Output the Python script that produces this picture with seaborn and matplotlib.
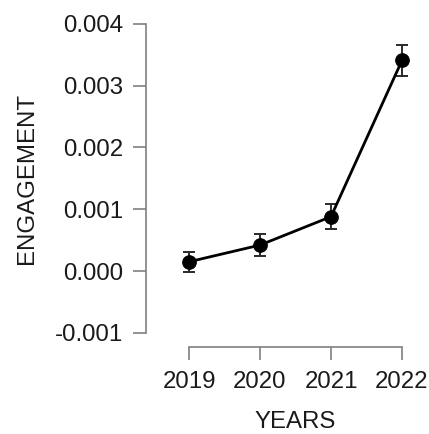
import matplotlib
matplotlib.use("Agg")
import matplotlib.pyplot as plt
import seaborn as sns
import pandas as pd

years = [2019, 2020, 2021, 2022]
engagement = [0.00015, 0.00042, 0.00088, 0.00341]
std_error = [0.00016, 0.00018, 0.00020, 0.00025]

y_ticks = [-0.001, 0.000, 0.001, 0.002, 0.003, 0.004]
y_tick_labels = ["-0.001", "0.000", "0.001", "0.002", "0.003", "0.004"]

sns.set_style("white")
plt.rcParams["font.family"] = ["Liberation Sans", "DejaVu Sans"]

df = pd.DataFrame({"YEARS": years, "ENGAGEMENT": engagement, "SE": std_error})

fig = plt.figure(figsize=(4.29, 4.34), dpi=100)
ax = fig.add_axes([146 / 429, 87 / 434, 283 / 429, 335.4 / 434])

ax.errorbar(df["YEARS"], df["ENGAGEMENT"], yerr=df["SE"], fmt="none",
            ecolor="#2a2a2a", elinewidth=1.4, capsize=4.5, capthick=1.4, zorder=2)
sns.lineplot(data=df, x="YEARS", y="ENGAGEMENT", ax=ax, color="black",
             linewidth=2, marker="o", markersize=9.8, markeredgecolor="black",
             markerfacecolor="black", zorder=3)

ax.set_xlim(2019 - 43 / 71, 2022 + 27 / 71)
ax.set_ylim(-0.00123, 0.0042)

fs = 17.3
ax.set_xticks(years)
ax.set_xticklabels([str(y) for y in years], fontsize=fs)
ax.set_yticks(y_ticks)
ax.set_yticklabels(y_tick_labels, fontsize=fs)

for side in ["top", "right"]:
    ax.spines[side].set_visible(False)
ax.spines["left"].set_bounds(-0.001, 0.004)
ax.spines["bottom"].set_bounds(2019, 2022)
for side in ["left", "bottom"]:
    ax.spines[side].set_color("#808080")
    ax.spines[side].set_linewidth(1.2)

ax.tick_params(axis="both", which="major", length=9.5, width=1.2,
               color="#808080", labelcolor="#1a1a1a", left=True, bottom=True)
ax.tick_params(axis="x", pad=7.5)
ax.tick_params(axis="y", pad=7)

ax.set_xlabel("YEARS", fontsize=fs, color="#1a1a1a")
ax.set_ylabel("ENGAGEMENT", fontsize=fs, color="#1a1a1a")
ax.xaxis.set_label_coords((295 - 146) / 283, -(410.5 - 347) / 335.4)
ax.yaxis.set_label_coords(-(146 - 38) / 283, (347 - 178.5) / 335.4)

fig.savefig("out.png", dpi=100)
